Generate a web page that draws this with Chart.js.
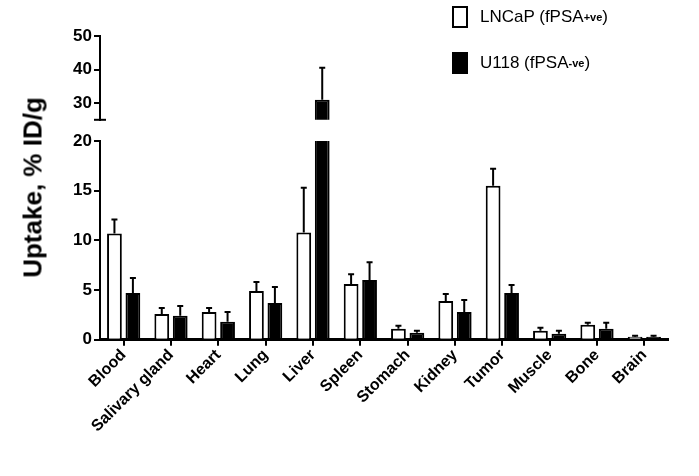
<!DOCTYPE html>
<html><head><meta charset="utf-8">
<script src="https://cdn.jsdelivr.net/npm/chart.js@4"></script>
<style>
body{margin:0;width:699px;height:476px;position:relative;background:#fff;font-family:"Liberation Sans",Arial,sans-serif;overflow:hidden}
canvas{position:absolute;left:0}
#yt{position:absolute;left:-82px;top:172px;width:230px;text-align:center;transform:rotate(-90deg);font-weight:bold;font-size:26px}
.lg{position:absolute;left:452px;font-size:17px;display:flex;align-items:center}
.bx{width:16px;height:22px;border:2px solid #000;margin-right:12px;box-sizing:border-box}
sup{font-size:11px;font-weight:bold}
</style></head><body>
<div id="up" style="position:absolute;left:0;top:22px;width:699px;height:110px"><canvas id="c1"></canvas></div>
<div id="lo" style="position:absolute;left:0;top:128px;width:699px;height:348px"><canvas id="c2"></canvas></div>
<div id="yt">Uptake, % ID/g</div>
<div class="lg" style="top:6px"><div class="bx" style="background:#fff"></div>LNCaP (fPSA<sup>+ve</sup>)</div>
<div class="lg" style="top:52px"><div class="bx" style="background:#000"></div>U118 (fPSA<sup>-ve</sup>)</div>
<script>
const categories=["Blood","Salivary gland","Heart","Lung","Liver","Spleen","Stomach","Kidney","Tumor","Muscle","Bone","Brain"];
const lncap=[10.7,2.6,2.8,4.9,10.8,5.6,1.1,3.9,15.5,0.9,1.5,0.3];
const lncapErr=[1.4,0.6,0.4,0.9,4.5,1.0,0.3,0.7,1.7,0.3,0.2,0.1];
const u118=[4.7,2.4,1.8,3.7,31,6.0,0.7,2.8,4.7,0.6,1.1,0.3];
const u118Err=[1.5,1.0,1.0,1.6,9.5,1.8,0.2,1.2,0.8,0.3,0.6,0.1];
const lowerTicks=[0,5,10,15,20];
const upperTicks=[30,40,50];
const errs=[lncapErr,u118Err];
const errPlugin={id:'err',afterDatasetsDraw(ch){
  const c=ch.ctx,y=ch.scales.y,a=ch.chartArea;
  c.save();c.beginPath();c.rect(a.left,a.top-8,a.right-a.left,a.bottom-a.top+8);c.clip();
  ch.data.datasets.forEach((ds,i)=>{ch.getDatasetMeta(i).data.forEach((b,j)=>{
    const v=ds.data[j],e=errs[i][j];const t=y.getPixelForValue(v+e),b0=y.getPixelForValue(v);
    c.strokeStyle='#000';c.lineWidth=2;c.beginPath();c.moveTo(b.x,b0);c.lineTo(b.x,t);c.stroke();
    c.beginPath();c.moveTo(b.x-3,t);c.lineTo(b.x+3,t);c.stroke();});});
  c.restore();
  if(!ch.options.scales.x.display){const c2=ch.ctx;c2.save();c2.strokeStyle='#000';c2.lineWidth=2;
    c2.beginPath();c2.moveTo(a.left-6,a.bottom);c2.lineTo(a.left+6,a.bottom);c2.stroke();c2.restore();}}};
function mk(id,min,max,ticks,showX,pad){
  return new Chart(document.getElementById(id),{type:'bar',
  data:{labels:categories,datasets:[
    {data:lncap,backgroundColor:'#fff',borderColor:'#000',borderWidth:2},
    {data:u118,backgroundColor:'#000',borderColor:'#000',borderWidth:2}]},
  options:{responsive:true,maintainAspectRatio:false,animation:false,
    layout:{padding:pad},
    plugins:{legend:{display:false},tooltip:{enabled:false}},
    datasets:{bar:{categoryPercentage:0.78,barPercentage:0.8}},
    scales:{
      x:{display:showX,grid:{display:true,drawOnChartArea:false,offset:false,color:'#000',tickLength:6,lineWidth:2},
        border:{color:'#000',width:3},
        ticks:{color:'#000',font:{family:'Liberation Sans',weight:'bold',size:16},minRotation:45,maxRotation:45,padding:0}},
      y:{min:min,max:max,afterFit(s){s.width=40;},
        afterBuildTicks(s){s.ticks=ticks.map(v=>({value:v}));},
        grid:{drawOnChartArea:false,color:'#000',tickLength:6,lineWidth:2},
        border:{color:'#000',width:2},
        ticks:{color:'#000',font:{family:'Liberation Sans',weight:'bold',size:17},padding:2}}}},
  plugins:[errPlugin]});}
mk('c1',25,50,upperTicks,false,{left:60,right:31,top:14,bottom:6});
mk('c2',0,20,lowerTicks,true,{left:60,right:31,top:13,bottom:40});
</script></body></html>
